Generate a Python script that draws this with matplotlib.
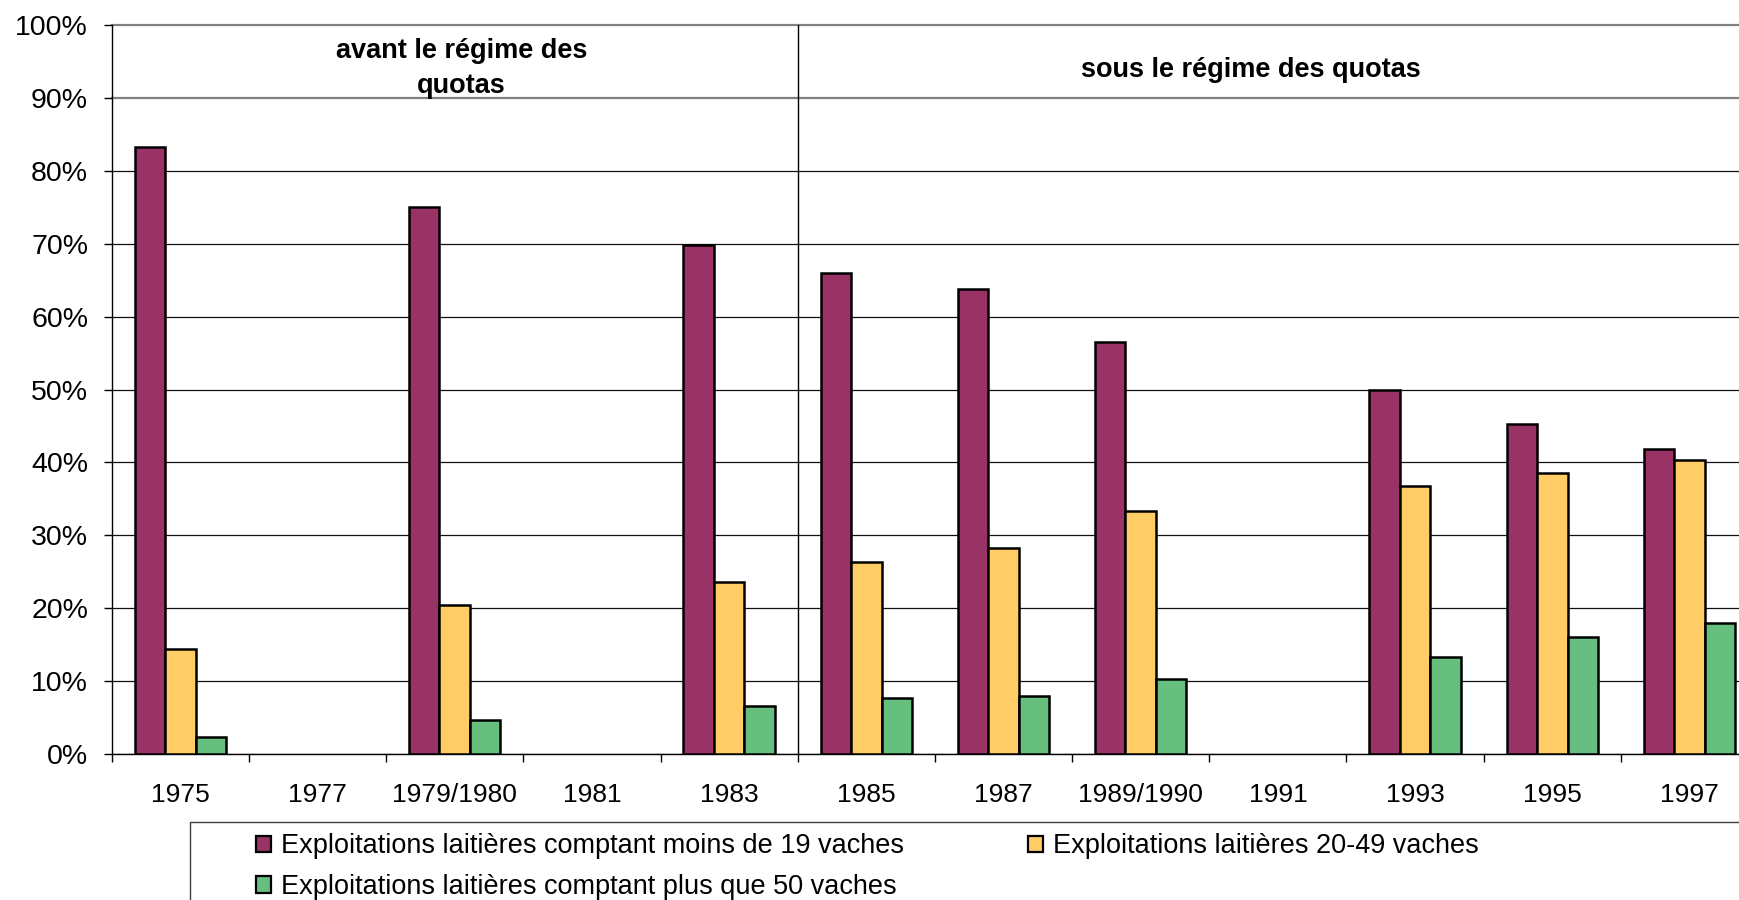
import numpy as np
import matplotlib
matplotlib.use('Agg')
import matplotlib.pyplot as plt
from matplotlib.patches import Patch, Rectangle

plt.rcParams['font.family'] = ['Liberation Sans', 'DejaVu Sans']

nan = np.nan
categories = ['1975', '1977', '1979/1980', '1981', '1983', '1985', '1987',
              '1989/1990', '1991', '1993', '1995', '1997']
moins_19 = [83.2, nan, 75.0, nan, 69.8, 66.0, 63.8, 56.5, nan, 50.0, 45.3, 41.8]
de_20_49 = [14.4, nan, 20.5, nan, 23.6, 26.4, 28.3, 33.3, nan, 36.8, 38.6, 40.3]
plus_50 = [2.4, nan, 4.6, nan, 6.6, 7.7, 8.0, 10.3, nan, 13.3, 16.1, 18.0]
series_labels = ['Exploitations laitières comptant moins de 19 vaches',
                 'Exploitations laitières 20-49 vaches',
                 'Exploitations laitières comptant plus que 50 vaches']
colors = ['#993366', '#FFCC66', '#66BF7F']
yticks = list(range(0, 101, 10))
ytick_labels = [f'{v}%' for v in yticks]
label_avant = 'avant le régime des\nquotas'
label_sous = 'sous le régime des quotas'

fig = plt.figure(figsize=(17.4, 9), dpi=100)
ax = fig.add_axes([0.0642, 0.1622, 0.9462, 0.8100])

x = np.arange(len(categories))
w = 0.222
series = [moins_19, de_20_49, plus_50]
for i, (vals, col) in enumerate(zip(series, colors)):
    ax.bar(x + (i - 1) * w, vals, w, color=col, edgecolor='black',
           linewidth=1.8, zorder=3)

ax.set_xlim(-0.5, len(categories) - 0.5)
ax.set_ylim(0, 100)

ax.set_xticks(np.arange(-0.5, len(categories), 1))
ax.set_xticklabels([])
ax.set_xticks(x, minor=True)
ax.set_xticklabels(categories, minor=True)
ax.tick_params(axis='x', which='major', direction='out', length=6, width=1)
ax.tick_params(axis='x', which='minor', length=0, pad=21, labelsize=19)

ax.set_yticks(yticks)
ax.set_yticklabels(ytick_labels)
ax.tick_params(axis='y', direction='out', length=6, width=1, pad=11, labelsize=20.5)

ax.grid(axis='y', color='#111111', linewidth=0.9)
ax.set_axisbelow(True)
for t in ax.yaxis.get_major_ticks()[-2:]:
    t.gridline.set_color('#808080')
    t.gridline.set_linewidth(1.6)
    t.gridline.set_clip_on(False)

for s in ['top', 'right']:
    ax.spines[s].set_visible(False)
ax.spines['left'].set_linewidth(1)
ax.spines['bottom'].set_linewidth(1)

ax.axvline(4.5, color='black', linewidth=1, zorder=2)

ax.text(2.05, 94.0, label_avant, ha='center', va='center', fontsize=19.5,
        fontweight='bold', linespacing=1.45)
ax.text(7.8, 93.8, label_sous, ha='center', va='center', fontsize=19.5,
        fontweight='bold')

handles = [Patch(facecolor=c, edgecolor='black', linewidth=1.6) for c in colors]
order = [0, 2, 1]
fig.legend([handles[i] for i in order], [series_labels[i] for i in order],
           ncol=2, loc='upper left', bbox_to_anchor=(256 / 1740, 0.074),
           frameon=False, fontsize=19.5, borderpad=0, borderaxespad=0,
           handlelength=0.56, handleheight=0.56, handletextpad=0.35,
           columnspacing=4.6, labelspacing=0.55)
fig.add_artist(Rectangle((190 / 1740, -0.1), 1.0, 0.1 + 78 / 900,
                         transform=fig.transFigure, fill=False,
                         edgecolor='#404040', linewidth=1))

fig.savefig('out.png', dpi=100)
